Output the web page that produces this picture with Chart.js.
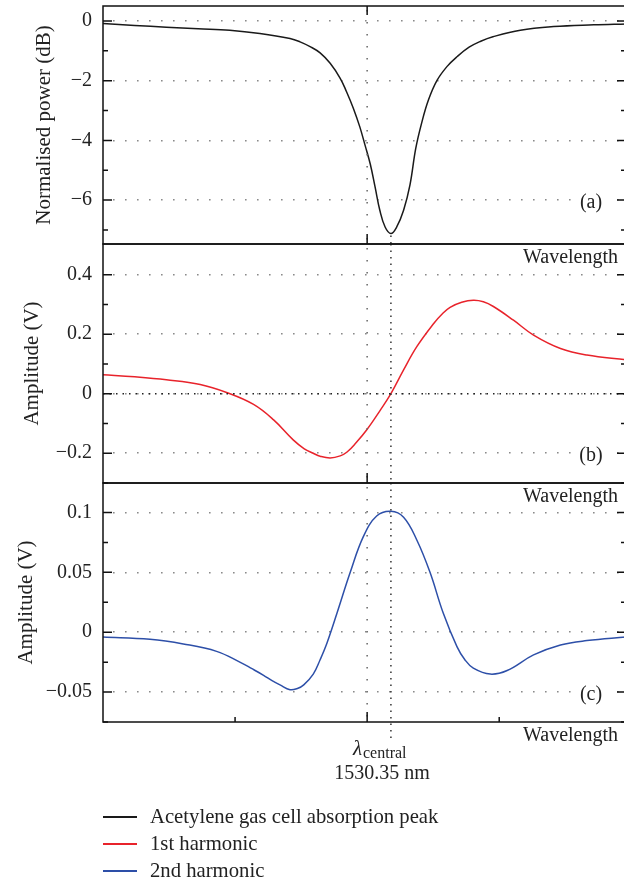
<!DOCTYPE html>
<html>
<head>
<meta charset="utf-8">
<script src="https://cdn.jsdelivr.net/npm/chart.js@4.4.1/dist/chart.umd.min.js"></script>
<style>
  html, body { margin: 0; padding: 0; overflow: hidden; background: #fff; }
  #wrap { position: relative; width: 640px; height: 886px; }
  #wrap canvas { position: absolute; left: 0; top: 0; }
  .legend { position: absolute; left: 103px; top: 803px; font: 20.7px 'Liberation Serif', serif; color: #222; }
  .legend div { height: 27px; display: flex; align-items: center; }
  .legend i { display: inline-block; width: 34px; height: 2px; margin-right: 13px; }
</style>
</head>
<body>
<div id="wrap">
  <canvas id="panelA" width="640" height="886"></canvas>
  <canvas id="panelB" width="640" height="886"></canvas>
  <canvas id="panelC" width="640" height="886"></canvas>
  <div class="legend">
    <div><i style="background:#1a1a1a"></i>Acetylene gas cell absorption peak</div>
    <div><i style="background:#e8232b"></i>1st harmonic</div>
    <div><i style="background:#2d4fa8"></i>2nd harmonic</div>
  </div>
</div>
<script>
// wavelength axis in arbitrary units, tick every 25, centre line at 50
const lambdaCentral = 54.5;
const lambdaLabel = '1530.35 nm';

// (a) acetylene absorption, dB
const absX = [0, 6, 12, 18, 24, 29.7, 35.4, 37.3, 39.2, 41.1, 43, 44.9, 46.1, 47.4, 48.6, 49.6, 50.6, 51.5, 52.4, 53.4,
  54.5, 55.6, 56.9, 58.1, 59.2, 60.3, 61.6, 63.2, 65.1, 67, 69.3, 71.5, 73.8, 79, 85.3, 92.9, 99];
const absY = [-0.09, -0.15, -0.21, -0.26, -0.31, -0.42, -0.59, -0.70, -0.86, -1.07, -1.42, -1.92, -2.37, -2.93, -3.54, -4.16, -4.80, -5.56, -6.34, -6.9,
  -7.12, -6.9, -6.34, -5.50, -4.27, -3.43, -2.65, -2.0, -1.53, -1.20, -0.88, -0.68, -0.53, -0.31, -0.19, -0.13, -0.10];

// (b) 1st harmonic, V
const h1X = [0, 6, 12, 18.4, 23.4, 28.5, 32.3, 36, 38.1, 39.8, 41.1, 43, 44.9, 46.2, 47.9, 49.9, 52.5, 54.5, 56.9, 59.4,
  62.6, 64.2, 65.7, 67.9, 70.1, 72, 73.9, 77.7, 81.5, 86.6, 91.6, 99];
const h1Y = [0.064, 0.057, 0.047, 0.031, 0.004, -0.036, -0.088, -0.155, -0.185, -0.200, -0.210, -0.216, -0.209, -0.196, -0.165, -0.122, -0.055, 0.0, 0.08, 0.158,
  0.236, 0.268, 0.290, 0.307, 0.314, 0.309, 0.293, 0.247, 0.197, 0.152, 0.13, 0.114];

// (c) 2nd harmonic, V
const h2X = [0, 8.9, 15.2, 21.5, 25.9, 28.2, 30.4, 32, 33.5, 35.4, 36.8, 38, 39.8, 41.1, 42.4, 44.3, 46.8, 49.3, 51.8, 54.5,
  56.9, 59.4, 61.9, 64.4, 67, 68.5, 70.1, 73.3, 76.5, 81.5, 86.6, 91.6, 99];
const h2Y = [-0.004, -0.0059, -0.0098, -0.016, -0.025, -0.0305, -0.036, -0.0405, -0.044, -0.048, -0.047, -0.044, -0.035, -0.023, -0.009, 0.016, 0.05, 0.08, 0.097, 0.101,
  0.096, 0.077, 0.05, 0.016, -0.012, -0.023, -0.030, -0.035, -0.032, -0.019, -0.0107, -0.007, -0.004];

const ticksA = [-6, -4, -2, 0];
const minorA = [-7, -5, -3, -1];
const ticksB = [-0.2, 0, 0.2, 0.4];
const minorB = [-0.3, -0.1, 0.1, 0.3];
const ticksC = [-0.05, 0, 0.05, 0.1];
const minorC = [-0.075, -0.025, 0.025, 0.075];

const FONT = "'Liberation Serif', serif";
Chart.defaults.font.family = FONT;
Chart.defaults.font.size = 20;
Chart.defaults.color = '#222';

const fmt = v => String(+v.toFixed(3)).replace('-', '\u2212');

const decor = {
  id: 'decor',
  afterDatasetsDraw(chart, args, o) {
    const ctx = chart.ctx;
    const { left, right, top, bottom } = chart.chartArea;
    const x = chart.scales.x, y = chart.scales.y;
    ctx.save();

    // vertical grid at centre tick
    const xc = x.getPixelForValue(50);
    ctx.strokeStyle = '#666';
    ctx.lineWidth = 1.5;
    ctx.setLineDash([1.5, 10.5]);
    ctx.beginPath(); ctx.moveTo(xc, top + 4); ctx.lineTo(xc, bottom); ctx.stroke();

    // zero line in panel b
    if (o.zeroLine) {
      ctx.strokeStyle = '#222';
      ctx.setLineDash([1.5, 5]);
      const y0 = y.getPixelForValue(0);
      ctx.beginPath(); ctx.moveTo(left, y0); ctx.lineTo(right, y0); ctx.stroke();
    }

    // lambda central line
    const xl = x.getPixelForValue(lambdaCentral);
    const y1 = o.lambdaFrom !== undefined ? y.getPixelForValue(o.lambdaFrom) + 2 : top;
    const y2 = o.lambdaTo ? bottom + o.lambdaTo : bottom;
    ctx.strokeStyle = '#333';
    ctx.setLineDash([1.5, 5]);
    ctx.beginPath(); ctx.moveTo(xl, y1); ctx.lineTo(xl, y2); ctx.stroke();
    ctx.setLineDash([]);

    // frame
    ctx.strokeStyle = '#111';
    ctx.lineWidth = 1.5;
    ctx.strokeRect(left, top, right - left, bottom - top);

    // inward ticks
    ctx.beginPath();
    o.major.forEach(v => {
      const p = y.getPixelForValue(v);
      ctx.moveTo(left, p); ctx.lineTo(left + 9, p);
      ctx.moveTo(right, p); ctx.lineTo(right - 9, p);
    });
    o.minor.forEach(v => {
      const p = y.getPixelForValue(v);
      ctx.moveTo(left, p); ctx.lineTo(left + 5, p);
      ctx.moveTo(right, p); ctx.lineTo(right - 5, p);
    });
    if (o.topTick) { ctx.moveTo(xc, top); ctx.lineTo(xc, top + 9); }
    ctx.moveTo(xc, bottom); ctx.lineTo(xc, bottom - 10);
    (o.xMinor || []).forEach(v => {
      const p = x.getPixelForValue(v);
      ctx.moveTo(p, bottom); ctx.lineTo(p, bottom - 5);
    });
    ctx.stroke();

    // panel letter on the lowest grid line
    ctx.font = '20px ' + FONT;
    ctx.textAlign = 'center';
    ctx.textBaseline = 'middle';
    const ly = y.getPixelForValue(o.major[0]) + 3;
    const lx = right - 35;
    ctx.fillStyle = '#fff';
    ctx.fillRect(lx - 20, ly - 10, 40, 18);
    ctx.fillStyle = '#222';
    ctx.fillText(o.letter, lx, ly);

    // axis name under the panel
    ctx.textAlign = 'right';
    ctx.textBaseline = 'alphabetic';
    ctx.fillText('Wavelength', right - 8, bottom + 19);

    if (o.lambdaTo) {
      ctx.textAlign = 'left';
      ctx.font = 'italic 21px ' + FONT;
      ctx.fillText('\u03bb', xl - 38, bottom + 33);
      const w = ctx.measureText('\u03bb').width;
      ctx.font = '16px ' + FONT;
      ctx.fillText('central', xl - 38 + w + 1, bottom + 36);
      ctx.font = '20px ' + FONT;
      ctx.textAlign = 'center';
      ctx.fillText(lambdaLabel, xl - 9, bottom + 57);
    }
    ctx.restore();
  }
};

function panel(id, xs, ys, color, label, yTitle, titlePad, yMin, yMax, major, minor, pad, extra) {
  return new Chart(document.getElementById(id), {
    type: 'line',
    data: {
      datasets: [{
        label,
        data: xs.map((x, i) => ({ x, y: ys[i] })),
        borderColor: color,
        borderWidth: 1.5,
        pointRadius: 0,
        tension: 0.4
      }]
    },
    options: {
      responsive: false,
      animation: false,
      layout: { padding: { left: 0, right: 14, top: pad[0], bottom: pad[1] } },
      plugins: {
        legend: { display: false },
        tooltip: { enabled: false },
        decor: Object.assign({ major, minor }, extra)
      },
      scales: {
        x: { type: 'linear', min: 0, max: 99, display: false },
        y: {
          min: yMin, max: yMax,
          afterBuildTicks: s => { s.ticks = major.map(v => ({ value: v })); },
          afterFit: s => { s.width = 103; s.paddingTop = 0; s.paddingBottom = 0; },
          ticks: { padding: 11, callback: v => fmt(v), color: '#222' },
          grid: { color: '#8a8a8a', lineWidth: 1.6, drawTicks: false },
          border: { display: false, dash: [1.6, 10.4], dashOffset: -10 },
          title: { display: true, text: yTitle, font: { size: 21 }, padding: { top: titlePad, bottom: 0 }, color: '#222' }
        }
      }
    },
    plugins: [decor]
  });
}

panel('panelA', absX, absY, '#1a1a1a', 'Acetylene gas cell absorption peak', 'Normalised power (dB)', 32,
  -7.47, 0.5, ticksA, minorA, [6, 642], { letter: '(a)', topTick: true, lambdaFrom: Math.min(...absY) });
panel('panelB', h1X, h1Y, '#e8232b', '1st harmonic', 'Amplitude (V)', 20,
  -0.3, 0.503, ticksB, minorB, [244, 403], { letter: '(b)', zeroLine: true });
panel('panelC', h2X, h2Y, '#2d4fa8', '2nd harmonic', 'Amplitude (V)', 14,
  -0.075, 0.1246, ticksC, minorC, [483, 164], { letter: '(c)', xMinor: [25, 75], lambdaTo: 19 });
</script>
</body>
</html>
